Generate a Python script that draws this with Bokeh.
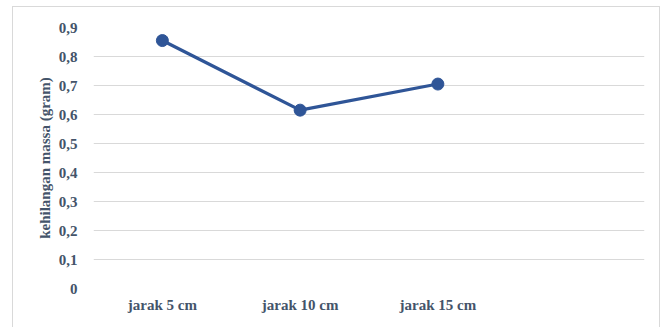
from bokeh.plotting import figure
from bokeh.models import FactorRange, Range1d, FixedTicker, CustomJSTickFormatter
from bokeh.embed import file_html
from bokeh.resources import INLINE

categories = ["jarak 5 cm", "jarak 10 cm", "jarak 15 cm", " "]
x_points = ["jarak 5 cm", "jarak 10 cm", "jarak 15 cm"]
values = [0.855, 0.615, 0.705]
y_ticks = [0, 0.1, 0.2, 0.3, 0.4, 0.5, 0.6, 0.7, 0.8, 0.9]
y_label = "kehilangan massa (gram)"

TXT = "#44546a"
FONT = "'Liberation Serif'"

p = figure(width=648, height=322, x_range=FactorRange(*categories),
           y_range=Range1d(0, 0.9), output_backend="svg", toolbar_location=None,
           min_border_left=80, min_border_right=17, min_border_top=20, min_border_bottom=41,
           margin=(6, 0, 0, 12), styles={"border": "1px solid #d9d9d9"})
p.outline_line_color = None
p.background_fill_color = "white"
p.border_fill_color = "white"

p.line(x_points, values, line_color="#2f5597", line_width=3.2)
p.scatter(x_points, values, size=12, fill_color="#2f5597", line_color="#2f5597")

p.yaxis.ticker = FixedTicker(ticks=y_ticks)
p.yaxis.formatter = CustomJSTickFormatter(code="return tick === 0 ? '0' : tick.toFixed(1).replace('.', ',');")
for ax in (p.xaxis, p.yaxis):
    ax.axis_line_color = None
    ax.major_tick_line_color = None
    ax.minor_tick_line_color = None
    ax.major_label_text_font = FONT
    ax.major_label_text_font_style = "bold"
    ax.major_label_text_font_size = "15px"
    ax.major_label_text_color = TXT
p.yaxis.major_label_standoff = 10
p.xaxis.major_label_standoff = 2
p.yaxis.axis_label = y_label
p.yaxis.axis_label_text_font = FONT
p.yaxis.axis_label_text_font_style = "bold"
p.yaxis.axis_label_text_font_size = "15px"
p.yaxis.axis_label_text_color = TXT
p.yaxis.axis_label_standoff = 3

p.xgrid.grid_line_color = None
p.ygrid.grid_line_color = "#d9d9d9"
p.ygrid.grid_line_width = 1

open("out.html", "w").write(file_html(p, INLINE))
